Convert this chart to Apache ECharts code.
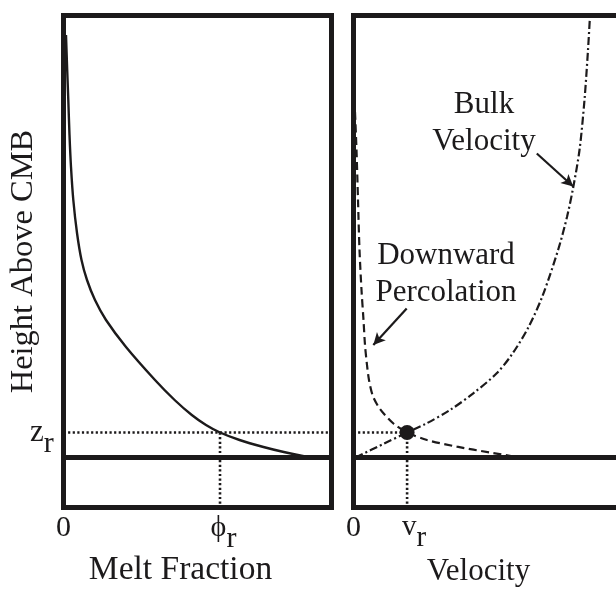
<!DOCTYPE html>
<html><head><meta charset="utf-8">
<script src="https://cdn.jsdelivr.net/npm/echarts@6/dist/echarts.min.js"></script>
<style>html,body{margin:0;padding:0;background:#fff}#c{width:616px;height:589px}</style>
</head><body><div id="c"></div>
<script>
// ---- data (arbitrary units) ----
const PHI_R = 0.584;   // melt fraction at z_r
const V_R = 0.2;       // velocity at z_r
const Z_R = 0.5;       // height z_r
const GAP_END = 1.082; // dotted z_r guide continues across the gap to the right panel

const heightTicks = [0, Z_R];
const heightTickLabels = ['0', '{m|z}{s|r}'];
const meltTicks = [0, PHI_R];
const meltTickLabels = ['0', '{m|\u03D5}{s|r}'];
const velTicks = [0, V_R];
const velTickLabels = ['0', '{m|v}{s|r}'];

// Melt fraction profile
const meltFraction = [0.0093, 0.0138, 0.0179, 0.0224, 0.028, 0.0366, 0.0504, 0.0672, 0.0877, 0.1175, 0.1586, 0.2332, 0.3414, 0.4146, 0.4787, 0.5317, 0.584, 0.657, 0.746, 0.822, 0.9198];
const meltHeight   = [8.45, 7.75, 7.15, 6.45, 5.81, 5.15, 4.49, 3.95, 3.55, 3.15, 2.75, 2.21, 1.55, 1.15, 0.85, 0.65, 0.5, 0.35, 0.21, 0.11, 0];

// Downward percolation velocity
const percVelocity = [0.0056, 0.0112, 0.0168, 0.0224, 0.0299, 0.0373, 0.0429, 0.0504, 0.0578, 0.0709, 0.0914, 0.1175, 0.151, 0.2, 0.2743, 0.3862, 0.5093, 0.6213];
const percHeight   = [6.91, 6.15, 5.15, 4.15, 3.35, 2.75, 2.25, 1.85, 1.55, 1.25, 1.03, 0.85, 0.67, 0.5, 0.35, 0.216, 0.1, 0];

// Bulk velocity
const bulkVelocity = [0.0075, 0.1112, 0.2, 0.2731, 0.3601, 0.447, 0.5343, 0.594, 0.6537, 0.7052, 0.7634, 0.7966, 0.8201, 0.8433, 0.8619, 0.875, 0.8825];
const bulkHeight   = [0, 0.27, 0.5, 0.684, 0.95, 1.284, 1.684, 2.084, 2.616, 3.23, 4.15, 4.81, 5.41, 6.15, 7.15, 8.15, 8.84];

// annotation arrows [from, to]
const bulkArrow = [[0.684, 6.08], [0.820, 5.42]];
const percArrow = [[0.1985, 2.98], [0.0739, 2.25]];

// ---- chart ----
const INK = '#1c1a1b';
const FONT = 'Liberation Serif';
const zip = (xs, ys) => xs.map((x, i) => [x, ys[i]]);

const chart = echarts.init(document.getElementById('c'), null, {renderer: 'canvas'});

const gridBase = {top: 15.5, width: 268, height: 492, show: true, borderWidth: 5, borderColor: INK,
  backgroundColor: 'transparent', containLabel: false, outerBoundsMode: 'none'};
const dotted = {color: INK, width: 2.6, type: [2.2, 2.4]};
const noLbl = {show: false};

function xAxisCfg(gridIndex, ticks, labels, name, nameSize, nameGap, namePad, rich) {
  return {
    gridIndex, type: 'value', min: 0, max: 1,
    axisLine: {show: false}, axisTick: {show: false}, splitLine: {show: false},
    axisLabel: {
      customValues: ticks, margin: 5.5, color: INK, fontFamily: FONT, fontSize: 30,
      formatter: v => labels[ticks.indexOf(v)], rich
    },
    name, nameLocation: 'middle', nameGap, nameMoveOverlap: false,
    nameTextStyle: {color: INK, fontFamily: FONT, fontSize: nameSize, padding: namePad}
  };
}

const option = {
  animation: false,
  backgroundColor: '#fff',
  grid: [Object.assign({left: 63.5}, gridBase), Object.assign({left: 353.5}, gridBase)],
  xAxis: [
    xAxisCfg(0, meltTicks, meltTickLabels, 'Melt Fraction', 33.5, 46, [0, 34, 0, 0], {
      m: {fontFamily: FONT, fontSize: 30, lineHeight: 30, verticalAlign: 'top', color: INK, padding: [0, 0, 0, 7]},
      s: {fontFamily: FONT, fontSize: 30, lineHeight: 30, verticalAlign: 'top', color: INK, padding: [11, 0, 0, 0]}
    }),
    xAxisCfg(1, velTicks, velTickLabels, 'Velocity', 31, 48.5, [0, 18, 0, 0], {
      m: {fontFamily: FONT, fontSize: 29, lineHeight: 30, verticalAlign: 'top', color: INK, padding: [0, 0, 0, 14]},
      s: {fontFamily: FONT, fontSize: 29, lineHeight: 30, verticalAlign: 'top', color: INK, padding: [11, 0, 0, 0]}
    })
  ],
  yAxis: [
    {
      gridIndex: 0, type: 'value', min: -1, max: 8.84,
      axisLine: {show: false}, axisTick: {show: false}, splitLine: {show: false},
      axisLabel: {
        customValues: heightTicks, margin: 33.5, align: 'left', color: INK, fontFamily: FONT, fontSize: 30,
        formatter: v => heightTickLabels[heightTicks.indexOf(v)],
        rich: {
          m: {fontFamily: FONT, fontSize: 31, lineHeight: 30, verticalAlign: 'top', color: INK},
          s: {fontFamily: FONT, fontSize: 30, lineHeight: 30, verticalAlign: 'top', color: INK, padding: [12, 0, 18, 0]}
        }
      },
      name: 'Height Above CMB', nameLocation: 'middle', nameGap: 24, nameRotate: 90, nameMoveOverlap: false,
      nameTextStyle: {color: INK, fontFamily: FONT, fontSize: 32.5}
    },
    {
      gridIndex: 1, type: 'value', min: -1, max: 8.84,
      axisLine: {show: false}, axisTick: {show: false}, splitLine: {show: false}, axisLabel: noLbl
    }
  ],
  series: [
    {type: 'line', xAxisIndex: 0, yAxisIndex: 0, data: zip(meltFraction, meltHeight), smooth: 0.3,
      symbol: 'none', lineStyle: {color: INK, width: 2.4}, z: 3},
    {type: 'line', xAxisIndex: 0, yAxisIndex: 0, data: [[0, 0], [1, 0]], symbol: 'none',
      lineStyle: {color: INK, width: 5}, z: 4},
    {type: 'line', xAxisIndex: 0, yAxisIndex: 0, data: [[0, Z_R], [GAP_END, Z_R]], symbol: 'none', clip: false,
      lineStyle: dotted, z: 2},
    {type: 'line', xAxisIndex: 0, yAxisIndex: 0, data: [[PHI_R, Z_R], [PHI_R, -1]], symbol: 'none',
      lineStyle: dotted, z: 2},

    {type: 'line', xAxisIndex: 1, yAxisIndex: 1, data: [[0, 0], [1, 0]], symbol: 'none',
      lineStyle: {color: INK, width: 5}, z: 4},
    {type: 'line', xAxisIndex: 1, yAxisIndex: 1, data: zip(percVelocity, percHeight), smooth: 0.3,
      symbol: 'none', lineStyle: {color: INK, width: 2.2, type: [8, 4.5]}, z: 3,
      markLine: {silent: true, symbol: ['none', 'arrow'], symbolSize: [9, 12], label: {show: false},
        lineStyle: {color: INK, width: 2.2, type: 'solid'},
        data: [[{coord: percArrow[0]}, {coord: percArrow[1]}]]}},
    {type: 'line', xAxisIndex: 1, yAxisIndex: 1, data: zip(bulkVelocity, bulkHeight), smooth: 0.3,
      symbol: 'none', lineStyle: {color: INK, width: 2.2, type: [8, 3, 2, 3]}, z: 3,
      markLine: {silent: true, symbol: ['none', 'arrow'], symbolSize: [9, 12], label: {show: false},
        lineStyle: {color: INK, width: 2.2, type: 'solid'},
        data: [[{coord: bulkArrow[0]}, {coord: bulkArrow[1]}]]}},
    {type: 'line', xAxisIndex: 1, yAxisIndex: 1, data: [[0, Z_R], [V_R, Z_R]], symbol: 'none',
      lineStyle: dotted, z: 2},
    {type: 'line', xAxisIndex: 1, yAxisIndex: 1, data: [[V_R, Z_R], [V_R, -1]], symbol: 'none',
      lineStyle: dotted, z: 2},
    {type: 'scatter', xAxisIndex: 1, yAxisIndex: 1, data: [[V_R, Z_R]], symbolSize: 15,
      itemStyle: {color: INK, opacity: 1}, z: 5}
  ],
  graphic: [
    {type: 'text', x: 484, y: 123, style: {text: 'Bulk\nVelocity', font: '31px "Liberation Serif"',
      fill: INK, align: 'center', verticalAlign: 'middle', lineHeight: 37}},
    {type: 'text', x: 446, y: 274.5, style: {text: 'Downward\nPercolation', font: '31px "Liberation Serif"',
      fill: INK, align: 'center', verticalAlign: 'middle', lineHeight: 37}}
  ]
};
chart.setOption(option);
</script>
</body></html>
